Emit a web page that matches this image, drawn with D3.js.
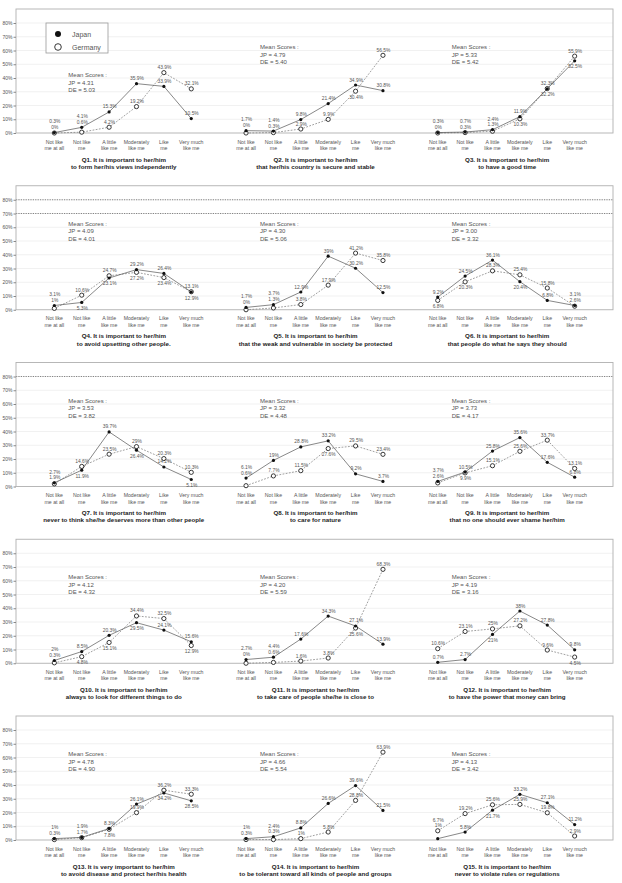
<!DOCTYPE html>
<html><head><meta charset="utf-8">
<script src="https://cdn.jsdelivr.net/npm/d3@7"></script>
<style>body{margin:0;background:#fff} svg{display:block}</style>
</head><body>
<svg id="c" width="622" height="883"></svg>
<script>
const categories = [["Not like","me at all"],["Not like","me"],["A little","like me"],["Moderately","like me"],["Like","me"],["Very much","like me"]];
const yTicks = [0,10,20,30,40,50,60,70,80];
const questions = [
 ["Q1. It is important to her/him","to form her/his views independently"],
 ["Q2. It is important to her/him","that her/his country is secure and stable"],
 ["Q3. It is important to her/him","to have a good time"],
 ["Q4. It is important to her/him","to avoid upsetting other people."],
 ["Q5. It is important to her/him","that the weak and vulnerable in society be protected"],
 ["Q6. It is important to her/him","that people do what he says they should"],
 ["Q7. It is important to her/him","never to think she/he deserves more than other people"],
 ["Q8. It is important to her/him","to care for nature"],
 ["Q9. It is important to her/him","that no one should ever shame her/him"],
 ["Q10. It is important to her/him","always to look for different things to do"],
 ["Q11. It is important to her/him","to take care of people she/he is close to"],
 ["Q12. It is important to her/him","to have the power that money can bring"],
 ["Q13. It is very important to her/him","to avoid disease and protect her/his health"],
 ["Q14. It is important to her/him","to be tolerant toward all kinds of people and groups"],
 ["Q15. It is important to her/him","never to violate rules or regulations"]
];
const japan = [
 [0.3,4.1,15.3,35.9,33.9,10.5],
 [1.7,1.4,9.8,21.4,34.9,30.8],
 [0.3,0.7,2.4,11.9,32.2,52.5],
 [3.1,5.3,23.1,29.2,26.4,12.9],
 [1.7,3.7,12.9,39,30.2,12.5],
 [9.2,24.5,36.1,20.4,6.8,3.1],
 [2.7,11.9,39.7,26.4,14.2,5.1],
 [6.1,19,28.8,33.2,9.2,3.7],
 [3.7,10.5,25.8,35.6,17.6,6.8],
 [2,8.5,20.3,29.5,24.1,15.6],
 [2.7,4.4,17.6,34.3,27.1,13.9],
 [0.7,2.7,21,38,27.8,9.8],
 [1,1.9,8.3,26.1,34.2,28.5],
 [1,2.4,8.8,26.6,39.6,21.5],
 [1,5.8,21.7,33.2,27.1,11.2]
];
const germany = [
 [0,0.6,4.2,19.2,43.9,32.1],
 [0,0.3,2.9,9.9,30.4,56.5],
 [0,0.3,1.3,10.3,32.3,55.9],
 [1,10.6,24.7,27.2,23.4,13.1],
 [0,1.3,3.8,17.9,41.2,35.8],
 [6.8,20.3,28.3,25.4,15.8,2.6],
 [1.9,14.6,23.5,29,20.3,10.3],
 [0.6,7.7,11.5,27.6,29.5,23.4],
 [2.6,9.9,15.1,25.6,33.7,13.1],
 [0.3,4.8,15.1,34.4,32.5,12.9],
 [0,0.6,1.6,3.8,25.6,68.3],
 [10.6,23.1,25,27.2,9.6,4.5],
 [0.3,1.7,7.8,19.9,36.2,33.3],
 [0.3,0.3,1,5.8,28.8,63.9],
 [6.7,19.2,25.6,25.9,19.8,2.9]
];
const meanJP = ["4.31","4.79","5.33","4.09","4.30","3.00","3.53","3.32","3.73","4.12","4.20","4.19","4.78","4.66","4.13"];
const meanDE = ["5.03","5.40","5.42","4.01","5.06","3.32","3.82","4.48","4.17","4.32","5.59","3.16","4.90","5.54","3.42"];
const dottedGrid = [[],[80,70],[80],[],[]];
const seriesNames = ["Japan","Germany"];

const svg = d3.select("#c");
const font = "'Liberation Sans',Arial,sans-serif";
const L = 16, R = 613, rowStep = 176.75;
const x = d3.scaleLinear().domain([-1.4, 20.4]).range([L, R]);
const pos = (c, i) => x(c * 7 + i);

for (let r = 0; r < 5; r++) {
  const zero = 133 + r * rowStep, top = 9 + r * rowStep;
  const y = d3.scaleLinear().domain([0, 80]).range([zero, zero - 110]);
  const g = svg.append("g");
  g.selectAll("line.grid").data(yTicks.filter(t => t > 0)).join("line")
    .attr("x1", L).attr("x2", R).attr("y1", d => y(d)).attr("y2", d => y(d))
    .attr("stroke", "#ededed").attr("stroke-width", 0.8);
  g.selectAll("line.dot").data(dottedGrid[r]).join("line")
    .attr("x1", L).attr("x2", R).attr("y1", d => y(d)).attr("y2", d => y(d))
    .attr("stroke", "#777").attr("stroke-width", 0.9).attr("stroke-dasharray", "1.2,1.2");
  g.append("rect").attr("x", L).attr("y", top).attr("width", R - L).attr("height", zero - top)
    .attr("fill", "none").attr("stroke", "#b0b0b0").attr("stroke-width", 0.9);
  const ax = g.append("g").attr("transform", `translate(${L},0)`)
    .call(d3.axisLeft(y).tickValues(yTicks).tickFormat(d => d + "%").tickSize(2.5).tickPadding(1));
  ax.select(".domain").remove();
  ax.selectAll("line").attr("stroke", "#888");
  ax.selectAll("text").attr("font-family", font).attr("font-size", 5).attr("fill", "#555");

  for (let c = 0; c < 3; c++) {
    const q = r * 3 + c;
    const jp = japan[q], de = germany[q];
    const line = d3.line().x((d, i) => pos(c, i)).y(d => y(d));
    g.append("path").attr("d", line(de)).attr("fill", "none").attr("stroke", "#777")
      .attr("stroke-width", 0.7).attr("stroke-dasharray", "1.8,1.4");
    g.append("path").attr("d", line(jp)).attr("fill", "none").attr("stroke", "#555")
      .attr("stroke-width", 0.7);
    g.selectAll(null).data(de).join("circle")
      .attr("cx", (d, i) => pos(c, i)).attr("cy", d => y(d)).attr("r", 2.1)
      .attr("fill", "#fff").attr("stroke", "#222").attr("stroke-width", 0.9);
    g.selectAll(null).data(jp).join("circle")
      .attr("cx", (d, i) => pos(c, i)).attr("cy", d => y(d)).attr("r", 1.6)
      .attr("fill", "#111");
    const labels = [];
    for (let i = 0; i < 6; i++) {
      const a = jp[i], b = de[i];
      const hi = Math.max(a, b), lo = Math.min(a, b);
      const hiTxt = (a >= b ? a : b) + "%", loTxt = (a >= b ? b : a) + "%";
      if (Math.abs(a - b) >= 6) {
        labels.push([i, a + "%", y(a) - 3.5]);
        labels.push([i, b + "%", y(b) - 3.5]);
      } else if (lo >= 3) {
        labels.push([i, hiTxt, y(hi) - 3.5]);
        labels.push([i, loTxt, y(lo) + 7.5]);
      } else {
        labels.push([i, loTxt, y(hi) - 3.5]);
        labels.push([i, hiTxt, y(hi) - 9.2]);
      }
    }
    g.selectAll(null).data(labels).join("text")
      .attr("x", d => pos(c, d[0]) + 0.5).attr("y", d => d[2]).text(d => d[1])
      .attr("text-anchor", "middle").attr("font-family", font).attr("font-size", 4.9).attr("fill", "#555");
    categories.forEach((cat, i) => {
      cat.forEach((t, k) => {
        g.append("text").attr("x", pos(c, i)).attr("y", zero + 10.7 + k * 6.4).text(t)
          .attr("text-anchor", "middle").attr("font-family", font).attr("font-size", 5.2).attr("fill", "#555");
      });
    });
    const cx = (pos(c, 0) + pos(c, 5)) / 2;
    questions[q].forEach((t, k) => {
      g.append("text").attr("x", cx + 1).attr("y", zero + 28.5 + k * 7.3).text(t)
        .attr("text-anchor", "middle").attr("font-family", font).attr("font-size", 6.2)
        .attr("font-weight", "bold").attr("fill", "#222");
    });
    const my = (r === 0 && c === 0) ? top + 68 : top + 40;
    ["Mean Scores :", "JP = " + meanJP[q], "DE = " + meanDE[q]].forEach((t, k) => {
      g.append("text").attr("x", pos(c, 0) + 14).attr("y", my + k * 7.5).text(t)
        .attr("font-family", font).attr("font-size", 6).attr("fill", "#555");
    });
  }
}
const lg = svg.append("g");
lg.append("rect").attr("x", 46).attr("y", 23).attr("width", 62).attr("height", 30)
  .attr("fill", "#fff").attr("stroke", "#999").attr("stroke-width", 0.8);
lg.append("circle").attr("cx", 58).attr("cy", 34).attr("r", 3).attr("fill", "#111");
lg.append("circle").attr("cx", 58).attr("cy", 47).attr("r", 3.3).attr("fill", "#fff").attr("stroke", "#222").attr("stroke-width", 0.9);
seriesNames.forEach((n, k) => {
  lg.append("text").attr("x", 72).attr("y", 36.5 + k * 13).text(n)
    .attr("font-family", font).attr("font-size", 7).attr("fill", "#555");
});
</script>
</body></html>
